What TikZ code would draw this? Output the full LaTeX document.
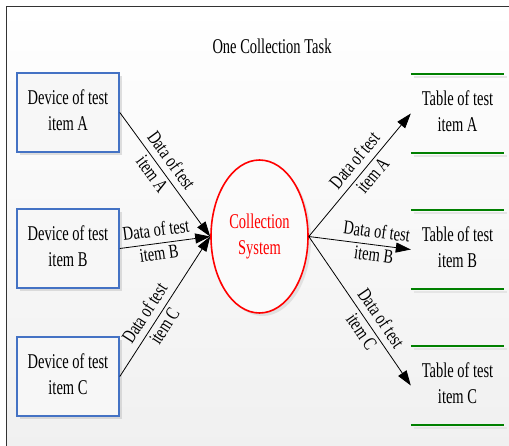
\documentclass[tikz,border=0pt]{standalone}
\usepackage{graphicx}
\usepackage{fontspec}
\setmainfont{Liberation Serif}
\usetikzlibrary{arrows.meta,shapes.geometric,shadows}
\definecolor{boxblue}{RGB}{68,114,196}
\definecolor{tabgreen}{RGB}{0,128,0}
% text stretched upwards like the figure
\newcommand{\tallText}[2][1.45]{\scalebox{1}[#1]{\begin{tabular}{@{}c@{}}#2\end{tabular}}}

\begin{document}
\begin{tikzpicture}[x=1pt,y=-1pt,
  every node/.style={font=\fontsize{14.5}{18}\selectfont},
  device/.style={draw=boxblue, line width=1.6pt, fill=gray!6, minimum width=102pt,
    minimum height=79pt, inner sep=0pt,
    drop shadow={shadow xshift=3pt, shadow yshift=-3pt, fill=gray!60, opacity=0.4}},
  system/.style={ellipse, draw=red, line width=1.6pt, fill=gray!3, text=red,
    minimum width=97pt, minimum height=153pt, inner sep=0pt,
    drop shadow={shadow xshift=3pt, shadow yshift=-3pt, fill=gray!60, opacity=0.3}},
  table/.style={minimum width=93pt, minimum height=79pt, inner sep=0pt},
  tabline/.style={draw=tabgreen, line width=1.6pt},
  flow/.style={-{Triangle[length=15pt,width=10pt]}, line width=0.8pt},
  lab/.style={sloped, inner sep=0pt, font=\fontsize{14.5}{17.5}\selectfont}]

\useasboundingbox (0,0) rectangle (509,445);
\clip (0,0) rectangle (509,445);

% background and frame
\shade[top color=white, bottom color=gray!12] (6,6) rectangle (515,460);
\draw[gray!40!black, line width=1pt] (6,460) -- (6,6) -- (515,6);

\node (title) at (272,48) {\tallText{One Collection Task}};

\node[device] (devA) at (68,112.5) {\tallText{Device of test\\item A}};
\node[device] (devB) at (68,248.5) {\tallText{Device of test\\item B}};
\node[device] (devC) at (68,376.5) {\tallText{Device of test\\item C}};

\node[system] (sys) at (259.5,236.5) {\tallText{Collection\\System}};

\node[table] (tabA) at (457.5,113.5) {\tallText{Table of test\\item A}};
\node[table] (tabB) at (457.5,249.5) {\tallText{Table of test\\item B}};
\node[table] (tabC) at (457.5,385.5) {\tallText{Table of test\\item C}};

% table lines
\foreach \t in {tabA,tabB,tabC} {
  \draw[gray!20, line width=2.5pt] ([shift={(3,3)}]\t.north west) -- ([shift={(3,3)}]\t.north east);
  \draw[gray!20, line width=2.5pt] ([shift={(3,3)}]\t.south west) -- ([shift={(3,3)}]\t.south east);
  \draw[tabline] (\t.north west) -- (\t.north east);
  \draw[tabline] (\t.south west) -- (\t.south east);
}

\draw[flow] (devA.east) -- node[lab, pos=0.45] {\tallText[1.35]{Data of test\\item A}} (sys.west);
\draw[flow] (devB.east) -- node[lab, pos=0.42] {\tallText[1.35]{Data of test\\item B}} (sys.west);
\draw[flow] (devC.east) -- node[lab, pos=0.4] {\tallText[1.35]{Data of test\\item C}} (sys.west);

\draw[flow] (sys.east) -- node[lab, pos=0.55] {\tallText[1.35]{Data of test\\item A}} (tabA.west);
\draw[flow] (sys.east) -- node[lab, pos=0.65] {\tallText[1.35]{Data of test\\item B}} (tabB.west);
\draw[flow] (sys.east) -- node[lab, pos=0.6] {\tallText[1.35]{Data of test\\item C}} (tabC.west);
\end{tikzpicture}
\end{document}
